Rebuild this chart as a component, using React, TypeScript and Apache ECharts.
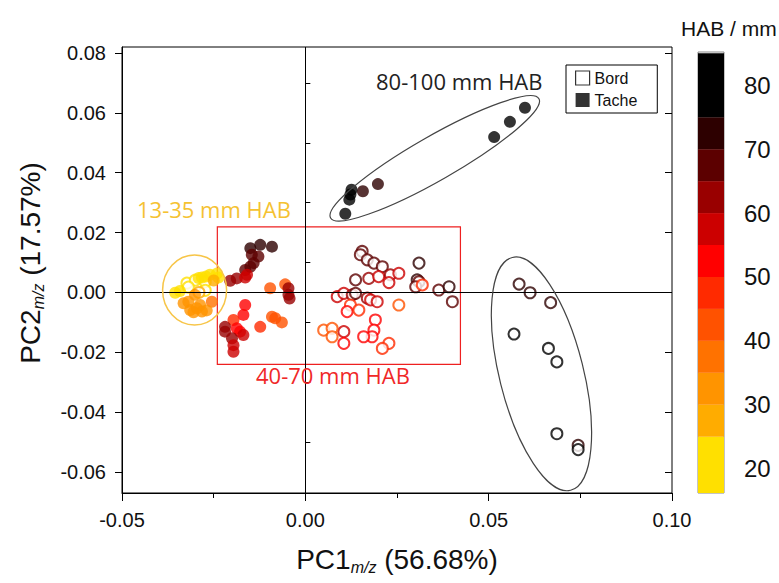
import React, { useEffect, useRef } from "react";
import * as echarts from "echarts";

// [PC1, PC2, HAB (mm)]
const TACHE_LOW: number[][] = [
  [-0.0355, -0.0001, 20], [-0.0342, 0.0005, 21], [-0.0291, 0.0048, 22], [-0.0282, 0.0050, 23],
  [-0.0271, 0.0053, 22], [-0.0260, 0.0059, 24], [-0.0241, 0.0063, 24], [-0.0237, 0.0050, 24],
  [-0.0250, 0.0040, 27], [-0.0301, -0.0008, 30], [-0.0319, -0.0031, 32], [-0.0332, -0.0036, 31],
  [-0.0314, -0.0059, 33], [-0.0287, -0.0042, 32], [-0.0282, -0.0064, 34], [-0.0296, -0.0053, 33],
  [-0.0255, -0.0031, 36], [-0.0269, -0.0060, 30], [-0.0305, -0.0066, 31],
];
const BORD_LOW: number[][] = [
  [-0.0323, 0.0031, 22], [-0.0300, 0.0041, 23], [-0.0273, 0.0036, 24], [-0.0319, 0.0018, 24],
  [-0.0273, 0.0007, 21], [-0.0290, 0.0000, 28],
];
const TACHE_MID: number[][] = [
  [-0.0150, 0.0148, 72], [-0.0123, 0.0159, 73], [-0.0091, 0.0153, 71], [-0.0146, 0.0126, 68],
  [-0.0128, 0.0120, 68], [-0.0141, 0.0098, 67], [-0.0150, 0.0086, 66], [-0.0164, 0.0075, 66],
  [-0.0159, 0.0059, 57], [-0.0205, 0.0039, 63], [-0.0187, 0.0047, 63], [-0.0164, 0.0050, 56],
  [-0.0096, 0.0014, 43], [-0.0055, 0.0027, 44], [-0.0046, 0.0014, 63], [-0.0046, -0.0008, 63],
  [-0.0043, -0.0020, 62], [-0.0164, -0.0042, 52], [-0.0169, -0.0075, 52], [-0.0196, -0.0092, 48],
  [-0.0219, -0.0115, 62], [-0.0219, -0.0131, 61], [-0.0187, -0.0120, 53], [-0.0178, -0.0131, 53],
  [-0.0169, -0.0142, 55], [-0.0200, -0.0153, 60], [-0.0196, -0.0176, 59], [-0.0196, -0.0198, 57],
  [-0.0123, -0.0115, 45], [-0.0091, -0.0081, 42], [-0.0082, -0.0086, 41], [-0.0064, -0.0100, 42],
];
const BORD_MID: number[][] = [
  [0.0155, 0.0137, 68], [0.0150, 0.0126, 68], [0.0169, 0.0109, 67], [0.0187, 0.0098, 66],
  [0.0210, 0.0086, 66], [0.0310, 0.0098, 72], [0.0305, 0.0042, 70], [0.0310, 0.0036, 68],
  [0.0301, 0.0019, 66], [0.0364, 0.0008, 68], [0.0392, 0.0019, 70], [0.0401, -0.0031, 68],
  [0.0137, 0.0042, 66], [0.0173, 0.0047, 64], [0.0200, 0.0053, 58], [0.0232, 0.0059, 62],
  [0.0255, 0.0064, 57], [0.0228, 0.0033, 57], [0.0319, 0.0025, 46], [0.0087, -0.0014, 56],
  [0.0105, -0.0003, 58], [0.0128, -0.0008, 64], [0.0137, -0.0003, 66], [0.0169, -0.0019, 62],
  [0.0178, -0.0025, 56], [0.0196, -0.0031, 57], [0.0123, -0.0042, 47], [0.0114, -0.0064, 52],
  [0.0146, -0.0059, 46], [0.0255, -0.0042, 43], [0.0191, -0.0092, 52], [0.0187, -0.0126, 53],
  [0.0182, -0.0148, 52], [0.0159, -0.0148, 52], [0.0105, -0.0131, 56], [0.0105, -0.0170, 52],
  [0.0228, -0.0170, 47], [0.0210, -0.0187, 46], [0.0050, -0.0126, 41], [0.0073, -0.0120, 43],
  [0.0073, -0.0148, 42],
];
const TACHE_HIGH: number[][] = [
  [0.0599, 0.0617, 85], [0.0558, 0.0570, 83], [0.0515, 0.0519, 82], [0.0198, 0.0362, 74],
  [0.0157, 0.0338, 73], [0.0126, 0.0343, 80], [0.0123, 0.0327, 80], [0.0120, 0.0310, 80],
  [0.0109, 0.0263, 80],
];
const BORD_HIGH: number[][] = [
  [0.0583, 0.0028, 72], [0.0613, -0.0001, 73], [0.0669, -0.0034, 72], [0.0569, -0.0139, 80],
  [0.0663, -0.0187, 80], [0.0686, -0.0232, 78], [0.0686, -0.0472, 80], [0.0744, -0.0511, 74],
  [0.0744, -0.0525, 80],
];

// colour bar: upper edge of each 5 mm band and its colour
const CB_EDGES = [25, 30, 35, 40, 45, 50, 55, 60, 65, 70, 75, 85];
const CB_COLORS = [
  "#ffe000", "#ffac00", "#ff9400", "#ff7200", "#ff5200", "#ff2a00",
  "#ff0000", "#cc0000", "#990000", "#5c0000", "#2d0000", "#000000",
];
const CB_TICKS = [20, 30, 40, 50, 60, 70, 80];

const X_TICKS = [-0.05, 0, 0.05, 0.1];
const Y_TICKS = [-0.06, -0.04, -0.02, 0, 0.02, 0.04, 0.06, 0.08];
const Y_MINOR = [-0.05, -0.03, -0.01, 0.01, 0.03, 0.05, 0.07];

const FONT = "'Liberation Sans', Arial, sans-serif";
const ANN_FONT = "'Open Sans', sans-serif";

export default function App() {
  const ref = useRef<HTMLDivElement>(null);
  useEffect(() => {
    const chart = echarts.init(ref.current!, null, { renderer: "svg" });
    const pieces = CB_EDGES.map((e, i) => {
      const p: any = { color: CB_COLORS[i] };
      if (i > 0) p.gte = CB_EDGES[i - 1];
      if (i < CB_EDGES.length - 1) p.lt = e;
      return p;
    });
    const fmt = (v: number) => (Math.abs(v) < 1e-9 ? "0.00" : v.toFixed(2));
    const yRange = { min: -0.067, max: 0.082 };
    const nameRich = {
      a: { fontSize: 28, lineHeight: 30, verticalAlign: "top", fontFamily: FONT, color: "#111" },
      sub: { fontSize: 16, fontStyle: "italic", lineHeight: 16, padding: [22, 0, 0, 0], verticalAlign: "bottom", fontFamily: FONT, color: "#111" },
    };
    const option: any = {
      animation: false,
      backgroundColor: "#fff",
      grid: [
        { left: 120, right: 107, top: 47, bottom: 90, show: true, borderColor: "#000", borderWidth: 1 },
        { left: 698, width: 26, top: 52, bottom: 90, show: true, borderColor: "#888", borderWidth: 1 },
      ],
      legend: {
        left: 566, top: 65, orient: "vertical", selectedMode: false,
        data: [
          { name: "Bord", icon: "rect", itemStyle: { color: "#fff", borderColor: "#000", borderWidth: 1.2 } },
          { name: "Tache", icon: "rect", itemStyle: { color: "#000", borderWidth: 0 } },
        ],
        itemWidth: 14, itemHeight: 14, itemGap: 6,
        padding: [5, 20, 5, 9], borderColor: "#000", borderWidth: 1,
        textStyle: { fontSize: 16, color: "#111", fontFamily: FONT },
      },
      visualMap: { type: "piecewise", show: false, dimension: 2, seriesIndex: [0, 1], pieces },
      xAxis: [
        {
          type: "value", gridIndex: 0, min: X_TICKS[0], max: X_TICKS[X_TICKS.length - 1], interval: 0.05,
          axisLine: { onZero: false, lineStyle: { color: "#000", width: 1 } },
          axisTick: { length: 8, lineStyle: { color: "#000" } },
          minorTick: { show: true, splitNumber: 2, length: 5, lineStyle: { color: "#000" } },
          splitLine: { show: false },
          axisLabel: { formatter: fmt, fontSize: 20, color: "#111", margin: 17, fontFamily: FONT },
          name: "{a|PC1}{sub|m/z}{a| (56.68%)}", nameLocation: "middle", nameGap: 52,
          nameTextStyle: { rich: nameRich },
        },
        { type: "category", gridIndex: 1, data: ["HAB"], show: false },
      ],
      yAxis: [
        {
          type: "value", gridIndex: 0, ...yRange,
          axisLine: { onZero: false, lineStyle: { color: "#000", width: 1 } },
          axisTick: { customValues: Y_TICKS, length: 7, lineStyle: { color: "#000" } },
          splitLine: { show: false },
          axisLabel: { customValues: Y_TICKS, formatter: fmt, fontSize: 20, color: "#111", margin: 16, fontFamily: FONT },
          name: "{a|PC2}{sub|m/z}{a| (17.57%)}", nameLocation: "middle", nameGap: 76, nameRotate: 90,
          nameTextStyle: { rich: nameRich, padding: [0, 0, 0, 14] },
        },
        {
          type: "value", gridIndex: 0, ...yRange, axisLine: { show: false },
          axisTick: { customValues: Y_MINOR, length: 5, lineStyle: { color: "#000" } },
          axisLabel: { show: false }, splitLine: { show: false },
        },
        {
          type: "value", gridIndex: 0, ...yRange, axisLine: { show: false },
          axisTick: { customValues: Y_TICKS, inside: true, length: 7, lineStyle: { color: "#000" } },
          axisLabel: { show: false }, splitLine: { show: false },
        },
        {
          type: "value", gridIndex: 1, min: 16.2, max: 85.2, position: "right",
          axisLine: { show: false },
          axisTick: { customValues: CB_TICKS, length: 9, lineStyle: { color: "#666" } },
          axisLabel: { customValues: CB_TICKS, fontSize: 24, color: "#111", margin: 20, fontFamily: FONT },
          splitLine: { show: false },
        },
      ],
      series: [
        {
          name: "Bord", type: "scatter", xAxisIndex: 0, yAxisIndex: 0, symbol: "emptyCircle", symbolSize: 11,
          itemStyle: { borderWidth: 1.2 },
          data: [...BORD_LOW, ...BORD_MID, ...BORD_HIGH],
          markLine: {
            silent: true, symbol: "none", label: { show: false },
            lineStyle: { color: "#000", width: 1, type: "solid" },
            data: [{ xAxis: 0 }, { yAxis: 0 }],
          },
          markArea: {
            silent: true,
            itemStyle: { color: "rgba(0,0,0,0)", borderColor: "#ee2020", borderWidth: 1.2 },
            data: [[{ coord: [-0.024, 0.0219] }, { coord: [0.0423, -0.024] }]],
          },
        },
        {
          name: "Tache", type: "scatter", xAxisIndex: 0, yAxisIndex: 0, symbol: "circle", symbolSize: 12,
          data: [...TACHE_LOW, ...TACHE_MID, ...TACHE_HIGH],
        },
        ...CB_EDGES.map((e, i) => ({
          type: "bar", xAxisIndex: 1, yAxisIndex: 3, stack: "cb", barWidth: "100%", silent: true,
          data: [e - (i > 0 ? CB_EDGES[i - 1] : 0)],
          itemStyle: { color: CB_COLORS[i] },
        })),
      ],
    };
    chart.setOption(option);
    const px = (p: number[]) => chart.convertToPixel({ xAxisIndex: 0, yAxisIndex: 0 }, p) as number[];
    const cL = px([-0.0302, 0.0008]);
    const cT = px([0.0353, 0.0448]);
    const cR = px([0.0644, -0.0272]);
    const text = (x: number, y: number, t: string, color: string, size: number, family: string) => ({
      type: "text", x, y, silent: true, z: 20,
      style: { text: t, fill: color, fontSize: size, fontFamily: family, align: "left", verticalAlign: "middle" },
    });
    chart.setOption({
      graphic: [
        { type: "ellipse", x: cL[0], y: cL[1], shape: { cx: 0, cy: 0, rx: 32, ry: 35 }, style: { fill: "none", stroke: "#f7c548", lineWidth: 1.5 }, silent: true, z: 10 },
        { type: "ellipse", x: cT[0], y: cT[1], rotation: 0.52, shape: { cx: 0, cy: 0, rx: 120, ry: 22 }, style: { fill: "none", stroke: "#444", lineWidth: 1.2 }, silent: true, z: 10 },
        { type: "ellipse", x: cR[0], y: cR[1], rotation: 0.245, shape: { cx: 0, cy: 0, rx: 42, ry: 120 }, style: { fill: "none", stroke: "#444", lineWidth: 1.2 }, silent: true, z: 10 },
        text(137, 209, "13-35 mm HAB", "#f5c232", 22, ANN_FONT),
        text(256, 375, "40-70 mm HAB", "#f02828", 22, ANN_FONT),
        text(376, 81, "80-100 mm HAB", "#222", 22, ANN_FONT),
        text(681, 28, "HAB / mm", "#111", 21, FONT),
      ],
    });
    return () => chart.dispose();
  }, []);
  return <div ref={ref} style={{ position: "absolute", left: 0, top: 0, width: 779, height: 583 }} />;
}
